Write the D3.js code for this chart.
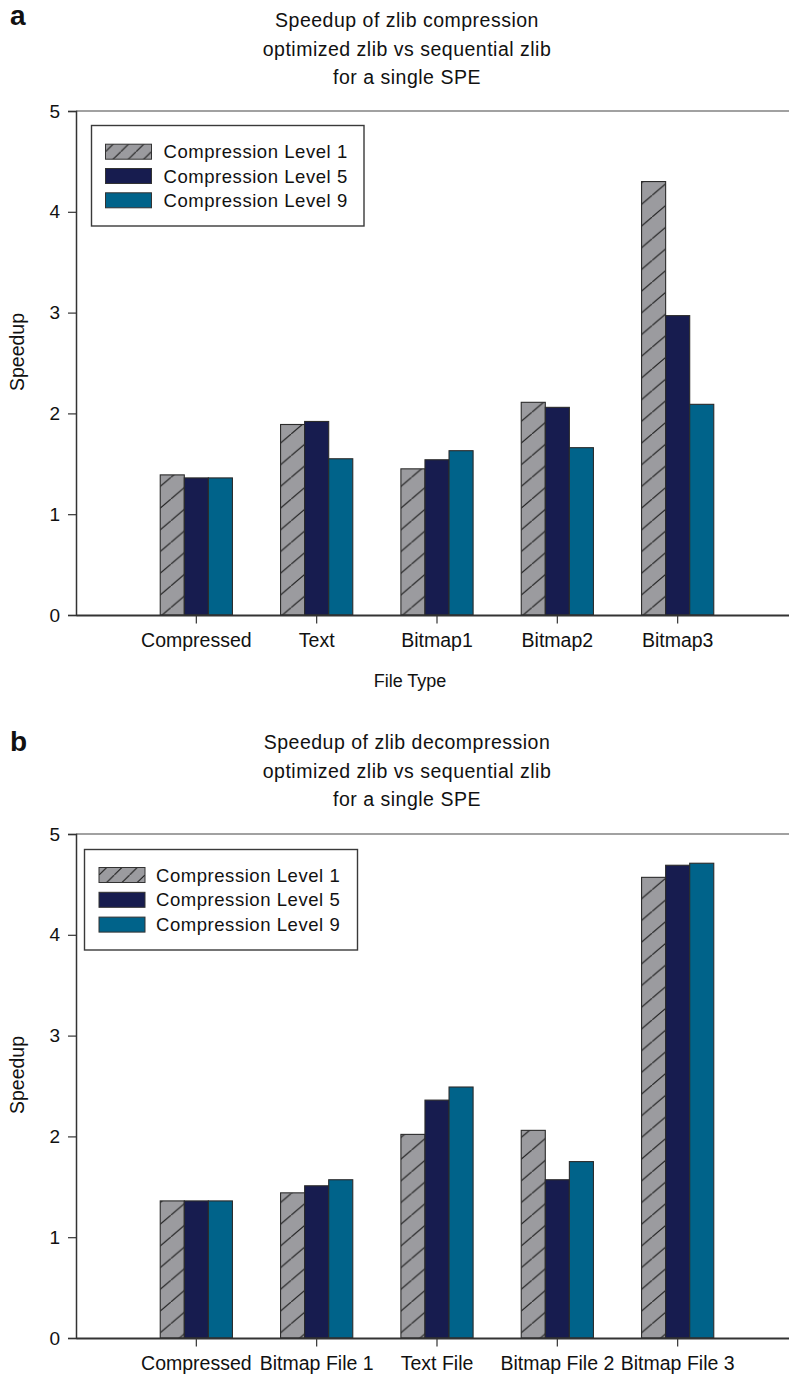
<!DOCTYPE html>
<html lang="en">
<head>
    <meta charset="UTF-8">
    <title>zlib speedup</title>
    <script src="https://cdn.jsdelivr.net/npm/d3@7"></script>
    <style>
        body { margin: 0; background: #fff; }
        text { font-family: Arial, "Liberation Sans", sans-serif; fill: #111; }
    </style>
</head>
<body>
<svg id="fig" width="789" height="1374"></svg>
<script>

    // data
    const categoriesA = ["Compressed", "Text", "Bitmap1", "Bitmap2", "Bitmap3"];
    const categoriesB = ["Compressed", "Bitmap File 1", "Text File", "Bitmap File 2", "Bitmap File 3"];
    const seriesNames = ["Compression Level 1", "Compression Level 5", "Compression Level 9"];
    const level1A = [1.39, 1.89, 1.45, 2.11, 4.30];
    const level5A = [1.36, 1.92, 1.54, 2.06, 2.97];
    const level9A = [1.36, 1.55, 1.63, 1.66, 2.09];
    const level1B = [1.36, 1.44, 2.02, 2.06, 4.57];
    const level5B = [1.36, 1.51, 2.36, 1.57, 4.69];
    const level9B = [1.36, 1.57, 2.49, 1.75, 4.71];
    const yTicks = [0, 1, 2, 3, 4, 5];
    const titleA = ["Speedup of zlib compression", "optimized zlib vs sequential zlib", "for a single SPE"];
    const titleB = ["Speedup of zlib decompression", "optimized zlib vs sequential zlib", "for a single SPE"];

    const fills = ["url(#hatch)", "#171c4f", "#00638a"];
    const legendFills = ["url(#hatchLeg)", "#171c4f", "#00638a"];

    const svg = d3.select("#fig");
    const defs = svg.append("defs");

    const hatch = defs.append("pattern").attr("id", "hatch")
        .attr("patternUnits", "userSpaceOnUse")
        .attr("width", 25.5).attr("height", 21.7);
    hatch.append("rect").attr("width", 25.5).attr("height", 21.7).attr("fill", "#9b9b9f");
    hatch.append("line").attr("x1", 0).attr("y1", 21.7).attr("x2", 25.5).attr("y2", 0)
        .attr("stroke", "#1e1e1e").attr("stroke-width", 1.1);

    const hatchLeg = defs.append("pattern").attr("id", "hatchLeg")
        .attr("patternUnits", "userSpaceOnUse")
        .attr("width", 15.3).attr("height", 15);
    hatchLeg.append("rect").attr("width", 15.3).attr("height", 15).attr("fill", "#9b9b9f");
    hatchLeg.append("line").attr("x1", 0).attr("y1", 15).attr("x2", 15.3).attr("y2", 0)
        .attr("stroke", "#1e1e1e").attr("stroke-width", 1.1);

    function drawChart(cfg) {
        const left = 76, right = 798;
        const g = svg.append("g");

        const x = d3.scaleBand().domain(cfg.categories).range([left, right]).paddingOuter(0.5).paddingInner(0);
        const bw = x.step() * 0.2;
        const inner = d3.scaleBand().domain(seriesNames).range([-1.5 * bw, 1.5 * bw]);
        const y = d3.scaleLinear().domain([0, 5]).range([cfg.bottom, cfg.top]);

        // panel letter
        g.append("text").attr("x", 10).attr("y", cfg.letterY)
            .style("font-size", "28px").style("font-weight", "bold").text(cfg.letter);

        // title
        g.selectAll(".title").data(cfg.title).join("text")
            .attr("x", 407).attr("y", (d, i) => cfg.titleY + i * 28.7)
            .attr("text-anchor", "middle")
            .style("font-size", "19.5px").style("letter-spacing", "0.5px")
            .text(d => d);

        // top frame line
        g.append("line").attr("x1", left).attr("x2", right)
            .attr("y1", y(5)).attr("y2", y(5))
            .attr("stroke", "#444").attr("stroke-width", 1.2);

        // bars
        const rows = cfg.categories.map((c, i) => ({cat: c, vals: cfg.values.map(s => s[i])}));
        const grp = g.selectAll(".grp").data(rows).join("g")
            .attr("transform", d => `translate(${x(d.cat) + x.bandwidth() / 2},0)`);
        grp.selectAll("rect").data(d => d.vals.map((v, k) => ({v, k}))).join("rect")
            .attr("x", d => inner(seriesNames[d.k]))
            .attr("width", inner.bandwidth())
            .attr("y", d => y(d.v))
            .attr("height", d => y(0) - y(d.v))
            .attr("fill", d => fills[d.k])
            .attr("stroke", "#2b2b2b").attr("stroke-width", 1.1);

        // y axis
        const yAxis = g.append("g").attr("transform", `translate(${left},0)`)
            .call(d3.axisLeft(y).tickValues(yTicks).tickFormat(d3.format("d")).tickSize(8).tickPadding(8));
        yAxis.select(".domain").attr("stroke", "#333").attr("stroke-width", 1.5);
        yAxis.selectAll(".tick line").attr("stroke", "#333").attr("stroke-width", 1.2);
        yAxis.selectAll(".tick text").style("font-size", "19px")
            .style("font-family", "Arial, 'Liberation Sans', sans-serif").attr("fill", "#111");

        // x axis
        const xAxis = g.append("g").attr("transform", `translate(0,${y(0)})`)
            .call(d3.axisBottom(x).tickSize(8.5).tickPadding(9.5).tickSizeOuter(0));
        xAxis.select(".domain").attr("stroke", "#333").attr("stroke-width", 2);
        xAxis.selectAll(".tick line").attr("stroke", "#333").attr("stroke-width", 1.2);
        xAxis.selectAll(".tick text").style("font-size", "19.5px")
            .style("font-family", "Arial, 'Liberation Sans', sans-serif").attr("fill", "#111");

        // axis titles
        g.append("text")
            .attr("transform", `translate(${cfg.yLabelX},${cfg.yLabelY}) rotate(-90)`)
            .attr("text-anchor", "middle").style("font-size", "19.5px").text("Speedup");
        if (cfg.xLabel) {
            g.append("text").attr("x", 410).attr("y", cfg.xLabelY)
                .attr("text-anchor", "middle").style("font-size", "18px").text(cfg.xLabel);
        }

        // legend
        const lg = g.append("g");
        lg.append("rect").attr("x", cfg.legend.x).attr("y", cfg.legend.y)
            .attr("width", cfg.legend.w).attr("height", cfg.legend.h)
            .attr("fill", "#fff").attr("stroke", "#3a3a3a").attr("stroke-width", 1.4);
        const item = lg.selectAll(".item").data(seriesNames).join("g")
            .attr("transform", (d, i) => `translate(${cfg.legend.sx},${cfg.legend.row0 + i * cfg.legend.step})`);
        item.append("rect").attr("x", 0).attr("y", -7.5).attr("width", 46).attr("height", 15)
            .attr("fill", (d, i) => legendFills[i]).attr("stroke", "#333").attr("stroke-width", 1);
        item.append("text").attr("x", cfg.legend.tx).attr("y", 6.6)
            .style("font-size", "18.5px").style("letter-spacing", "0.55px").text(d => d);
    }

    drawChart({
        categories: categoriesA, values: [level1A, level5A, level9A], title: titleA,
        top: 111, bottom: 615, titleY: 27, letter: "a", letterY: 25,
        yLabelX: 24, yLabelY: 352, xLabel: "File Type", xLabelY: 687,
        legend: {x: 91.5, y: 125.5, w: 272.5, h: 100.5, sx: 105.5, row0: 151.7, step: 24.3, tx: 58}
    });

    drawChart({
        categories: categoriesB, values: [level1B, level5B, level9B], title: titleB,
        top: 834, bottom: 1338, titleY: 749, letter: "b", letterY: 751,
        yLabelX: 24, yLabelY: 1075, xLabel: null,
        legend: {x: 84.5, y: 849.5, w: 273, h: 100.5, sx: 99, row0: 875, step: 24.8, tx: 57}
    });

</script>
</body>
</html>
